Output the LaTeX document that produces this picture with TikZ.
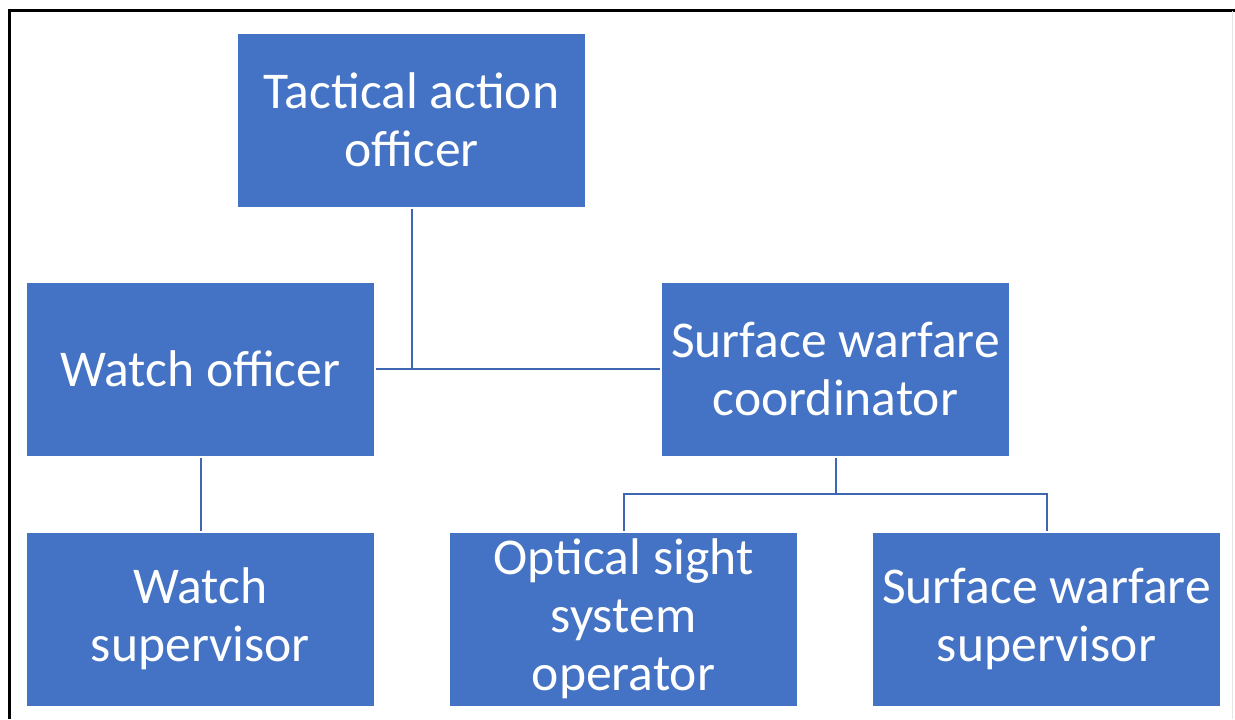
\documentclass[tikz,border=0pt]{standalone}
\usepackage{fontspec}
\setmainfont{Carlito}
\usetikzlibrary{positioning,calc}
\definecolor{boxblue}{HTML}{4472C4}
\definecolor{lineblue}{HTML}{3F66B2}
\def\myvdist{36.5pt}
\def\myhdist{36pt}
\tikzset{
semithick, % all lines semithick
my node/.style={minimum width=173.5pt,minimum height=86.5pt,inner sep=1mm,outer sep=1pt},
my box/.style={my node,fill=boxblue,text=white,align=center,
  font=\fontsize{25.8}{29}\selectfont},
my link/.style={draw=lineblue,line width=1pt},
my frame/.style={line width=1.5pt,black},
}
\begin{document}
\begin{tikzpicture}[x=0.5pt,y=-0.5pt,node distance=\myvdist and \myhdist]
\useasboundingbox (0,0) rectangle (1235,719);
% frame
\draw[my frame] (9,719) -- (9,10) -- (1235,10);
\draw[gray!20,line width=0.5pt] (1232,11) -- (1232,719);
% boxes
\node[my box] (tao) at (411.5,120) {Tactical action\\officer};
\node[my box] (wo) at (200.5,369) {Watch officer};
\node[my box,right=142pt of wo] (swc) {Surface warfare\\coordinator};
\node[my box,below=of wo] (ws) {Watch\\supervisor};
\node[my box,right=of ws] (osso) {Optical sight\\system\\operator};
\node[my box,right=of osso] (sws) {Surface warfare\\supervisor};
\coordinate (split) at ($(swc.south)!0.5!(swc.south |- osso.north)$);
% links
\path[my link]
  (wo) edge (swc)
  (tao) edge (tao |- wo)
  (wo) edge (ws)
  (swc) edge (swc |- split);
\draw[my link] (split) -| (osso);
\draw[my link] (split) -| (sws);
\end{tikzpicture}
\end{document}
